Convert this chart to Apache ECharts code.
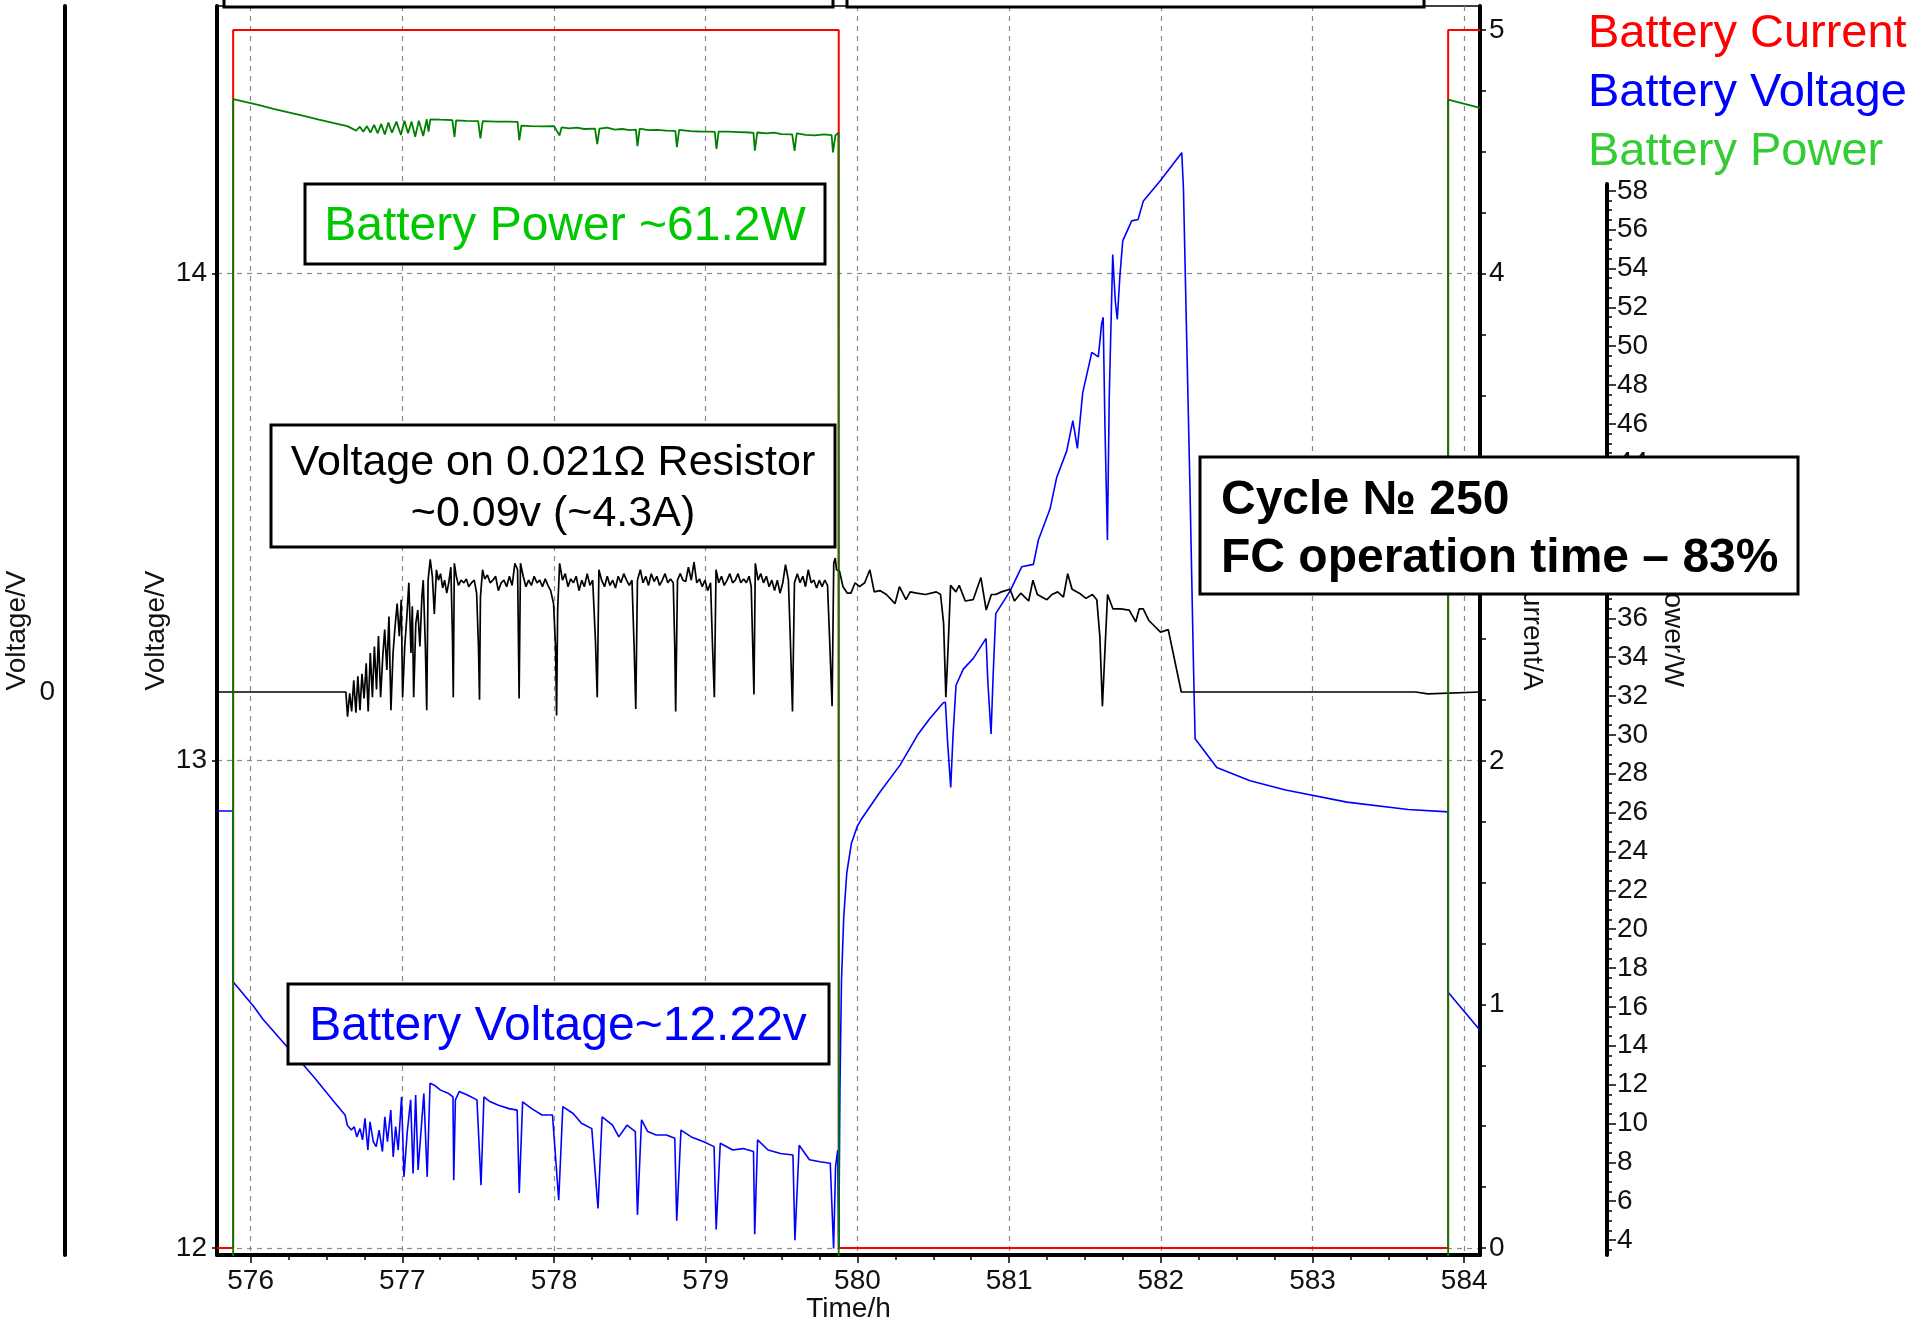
<!DOCTYPE html>
<html><head><meta charset="utf-8">
<script src="https://cdn.jsdelivr.net/npm/echarts@6/dist/echarts.min.js"></script>
<style>html,body{margin:0;padding:0;background:#fff}#c{width:1920px;height:1326px}</style>
</head><body><div id="c"></div><script>
// ---------- tick labels ----------
const hourLabels = [576, 577, 578, 579, 580, 581, 582, 583, 584];
const voltLabels = [12, 13, 14];
const shuntLabels = [0];
const ampLabels = [0, 1, 2, 3, 4, 5];
const wattLabels = [4, 6, 8, 10, 12, 14, 16, 18, 20, 22, 24, 26, 28, 30, 32, 34, 36, 38, 40, 42, 44, 46, 48, 50, 52, 54, 56, 58];
const legendNames = ['Battery Current', 'Battery Voltage', 'Battery Power'];

// ---------- Battery Current (A) ----------
const currentT = [575.7785, 575.885, 575.885, 579.877, 579.877, 583.894, 583.894, 584.104];
const currentA = [0, 0, 5, 5, 0, 0, 5, 5];

// ---------- Battery Voltage (V) ----------
const voltageT = [575.7785,575.885,575.885,575.912,575.96,576.022,576.08,576.145,576.24,576.3,576.35,576.42,576.487,576.55,576.623,576.637,
576.664,576.683,576.7,576.721,576.738,576.754,576.773,576.787,576.809,576.828,576.847,576.869,576.885,576.902,576.924,576.94,576.956,576.973,576.995,
577.011,577.033,577.055,577.071,577.088,577.104,577.142,577.164,577.183,577.211,577.252,577.306,577.334,577.339,577.35,577.375,577.429,577.492,577.519,
577.538,577.58,577.634,577.703,577.757,577.771,577.793,577.853,577.921,577.99,578.031,578.058,578.126,578.181,578.249,578.29,578.317,578.386,578.427,
578.481,578.536,578.55,578.577,578.618,578.673,578.741,578.796,578.809,578.837,578.905,578.987,579.055,579.069,579.096,579.178,579.247,579.315,579.323,
579.342,579.411,579.493,579.575,579.588,579.616,579.684,579.753,579.821,579.843,579.856,579.87,579.877,579.885,579.895,579.91,579.93,579.96,580.0,
580.028,580.149,580.281,580.401,580.479,580.566,580.58,580.595,580.615,580.63,580.65,580.698,580.764,580.848,580.86,580.881,580.895,580.912,581.006,
581.083,581.16,581.193,581.27,581.314,581.38,581.42,581.45,581.485,581.545,581.588,581.61,581.62,581.632,581.648,581.66,581.683,581.69,581.7,581.713,
581.73,581.749,581.808,581.85,581.885,581.995,582.138,582.149,582.17,582.192,582.214,582.226,582.369,582.588,582.823,583.227,583.63,583.894,583.894,584.104];
const voltageV = [12.897,12.897,12.546,12.536,12.518,12.495,12.47,12.447,12.413,12.394,12.375,12.35,12.324,12.3,12.273,12.252,
12.242,12.249,12.228,12.245,12.222,12.266,12.201,12.259,12.218,12.208,12.242,12.198,12.269,12.218,12.283,12.187,12.249,12.201,12.31,
12.146,12.239,12.304,12.153,12.314,12.16,12.317,12.146,12.338,12.334,12.324,12.317,12.31,12.139,12.304,12.321,12.314,12.304,12.129,
12.31,12.3,12.293,12.286,12.283,12.113,12.3,12.286,12.273,12.273,12.098,12.29,12.276,12.256,12.245,12.081,12.269,12.252,12.228,
12.252,12.239,12.068,12.263,12.239,12.232,12.232,12.225,12.056,12.242,12.228,12.218,12.208,12.038,12.215,12.201,12.204,12.198,12.028,
12.222,12.201,12.194,12.191,12.016,12.211,12.181,12.177,12.174,11.999,12.167,12.201,12.0,12.33,12.55,12.68,12.77,12.83,12.866,
12.881,12.936,12.991,13.055,13.087,13.119,13.12,13.036,12.945,13.05,13.155,13.188,13.21,13.251,13.16,13.055,13.178,13.302,13.348,
13.398,13.403,13.453,13.517,13.582,13.636,13.698,13.641,13.755,13.838,13.829,13.897,13.91,13.682,13.453,13.746,14.039,13.998,13.943,13.906,
13.994,14.067,14.108,14.111,14.149,14.19,14.248,14.176,13.874,13.563,13.215,13.045,12.986,12.959,12.94,12.915,12.9,12.895,12.525,12.447];

// ---------- Battery Power (W) ----------
const powerT = [575.7785,575.885,575.885,575.95,576.05,576.15,576.25,576.35,576.45,576.55,576.637,576.667,576.696,576.72,576.743,576.767,576.79,
576.814,576.838,576.861,576.885,576.908,576.932,576.961,576.991,577.014,577.038,577.061,577.085,577.109,577.138,577.161,577.173,577.185,577.25,577.33,
577.344,577.355,577.42,577.5,577.515,577.53,577.62,577.7,577.76,577.771,577.785,577.85,577.93,578.0,578.036,578.05,578.1,578.15,578.2,578.27,578.285,
578.3,578.35,578.4,578.45,578.5,578.54,578.55,578.565,578.62,578.68,578.74,578.8,578.81,578.825,578.9,578.96,579.02,579.06,579.071,579.085,579.15,
579.22,579.29,579.315,579.324,579.34,579.4,579.45,579.5,579.57,579.586,579.6,579.66,579.72,579.78,579.83,579.839,579.855,579.875,579.877,583.894,
583.894,584.104];
const powerW = [0,0,62.72,62.6,62.42,62.22,62.03,61.85,61.66,61.48,61.33,61.21,61.09,61.3,61.04,61.33,60.99,
61.39,60.96,61.44,60.9,61.51,60.99,61.56,60.87,61.61,60.96,61.56,60.78,61.61,60.82,61.68,61.04,61.68,61.66,61.64,
60.77,61.62,61.6,61.58,60.7,61.58,61.56,61.56,61.55,60.6,61.35,61.33,61.31,61.33,60.85,61.26,61.21,61.25,61.18,61.2,60.4,
61.2,61.25,61.15,61.18,61.12,61.15,60.3,61.2,61.12,61.13,61.1,61.08,60.24,61.13,61.07,61.05,61.04,61.03,60.15,61.04,61.04,
61.02,61.0,60.98,60.06,61.0,60.95,60.99,60.92,60.9,60.06,60.95,60.88,60.85,60.9,60.86,59.98,60.85,60.99,0,0,
62.69,62.27];

// ---------- Voltage on 0.021 Ohm resistor (V) ----------
const shuntT = [575.7785,576.628,576.639,576.653,576.666,576.68,576.694,576.707,576.721,576.734,576.748,576.762,576.775,576.789,576.803,576.816,576.83,
576.843,576.857,576.871,576.884,576.898,576.912,576.925,576.939,576.952,576.966,576.98,576.993,577.002,577.016,577.03,577.043,577.057,577.066,577.075,
577.089,577.102,577.116,577.129,577.138,577.152,577.161,577.17,577.184,577.198,577.211,577.225,577.238,577.252,577.266,577.279,577.293,577.306,577.32,
577.331,577.336,577.343,577.356,577.37,577.388,577.406,577.422,577.438,577.456,577.474,577.49,577.502,577.509,577.515,577.529,577.543,577.561,577.579,
577.597,577.615,577.633,577.652,577.67,577.688,577.706,577.724,577.742,577.76,577.77,577.779,577.797,577.815,577.833,577.851,577.869,577.888,577.906,
577.924,577.942,577.96,577.978,577.997,578.01,578.017,578.024,578.037,578.056,578.074,578.092,578.11,578.128,578.146,578.165,578.183,578.2,578.219,
578.237,578.255,578.273,578.285,578.296,578.314,578.333,578.351,578.369,578.387,578.405,578.423,578.441,578.46,578.478,578.496,578.514,578.528,578.539,
578.55,578.569,578.587,578.605,578.623,578.641,578.66,578.678,578.696,578.714,578.732,578.75,578.768,578.786,578.796,578.802,578.814,578.832,578.85,
578.868,578.886,578.905,578.923,578.941,578.959,578.977,578.995,579.013,579.032,579.045,579.057,579.068,579.086,579.104,579.122,579.141,579.159,579.177,
579.195,579.213,579.231,579.25,579.268,579.286,579.3,579.309,579.318,579.327,579.345,579.363,579.381,579.4,579.418,579.436,579.454,579.472,579.49,
579.508,579.526,579.545,579.558,579.572,579.585,579.604,579.622,579.64,579.658,579.676,579.695,579.713,579.731,579.749,579.767,579.785,579.803,579.817,
579.833,579.844,579.854,579.862,579.882,579.905,579.934,579.957,579.985,580.014,580.048,580.082,580.111,580.148,580.191,580.248,580.277,580.32,580.348,
580.391,580.448,580.52,580.548,580.568,580.583,580.597,580.614,580.649,580.671,580.711,580.763,580.814,580.849,580.883,580.912,580.949,581.006,581.035,
581.077,581.129,581.157,581.186,581.249,581.283,581.32,581.358,581.386,581.415,581.463,581.506,581.549,581.578,581.598,581.615,581.629,581.649,581.684,
581.735,581.792,581.835,581.858,581.884,581.921,581.964,581.998,582.049,582.135,583.68,583.69,583.76,583.77,584.104];
const shuntV = [0,0,-0.019,-0.001,-0.015,0.009,-0.016,0.012,-0.014,0.014,-0.005,0.022,-0.015,0.03,-0.004,0.035,0.002,
0.043,-0.004,0.027,0.048,0.017,0.058,-0.014,0.03,0.05,0.068,0.043,0.071,-0.004,0.035,0.058,0.084,0.03,0.066,-0.004,
0.053,0.063,0.035,0.073,0.086,0.035,-0.014,0.086,0.102,0.089,0.06,0.094,0.086,0.091,0.08,0.086,0.076,0.084,0.096,
0.04,-0.004,0.099,0.089,0.082,0.086,0.084,0.087,0.081,0.084,0.086,0.076,0.035,-0.006,0.073,0.094,0.087,0.09,0.084,
0.086,0.089,0.078,0.084,0.086,0.081,0.089,0.082,0.099,0.094,-0.005,0.099,0.089,0.081,0.086,0.082,0.089,0.084,0.086,
0.081,0.087,0.082,0.078,0.068,0.035,-0.018,0.063,0.099,0.086,0.091,0.081,0.087,0.084,0.089,0.078,0.086,0.081,0.091,
0.082,0.086,0.04,-0.004,0.094,0.086,0.081,0.089,0.082,0.086,0.08,0.089,0.084,0.091,0.086,0.082,0.086,0.035,-0.013,
0.086,0.094,0.084,0.089,0.082,0.091,0.085,0.089,0.082,0.086,0.091,0.084,0.087,0.084,0.035,-0.015,0.086,0.091,0.086,
0.085,0.096,0.086,0.1,0.084,0.087,0.081,0.086,0.078,0.084,0.035,-0.004,0.094,0.084,0.089,0.082,0.086,0.091,0.084,
0.086,0.091,0.084,0.087,0.084,0.089,0.081,0.04,-0.002,0.099,0.086,0.091,0.084,0.089,0.081,0.086,0.078,0.086,0.076,
0.084,0.098,0.086,0.04,-0.015,0.084,0.091,0.084,0.089,0.081,0.094,0.084,0.086,0.08,0.086,0.081,0.086,0.082,0.04,
-0.011,0.099,0.103,0.094,0.093,0.081,0.076,0.076,0.084,0.081,0.084,0.094,0.077,0.078,0.075,0.068,0.081,0.071,0.077,
0.076,0.075,0.077,0.075,0.053,-0.004,0.032,0.082,0.077,0.082,0.07,0.071,0.088,0.063,0.075,0.075,0.077,0.079,0.07,
0.076,0.07,0.086,0.075,0.071,0.075,0.077,0.073,0.091,0.079,0.076,0.072,0.075,0.071,0.043,-0.011,0.025,0.075,0.064,
0.064,0.063,0.054,0.064,0.064,0.055,0.05,0.046,0.048,0,0,-0.0015,-0.0015,0,0];

// ---------- helpers ----------
const pairs = (xs, ys) => xs.map((x, i) => [x, ys[i]]);
const stepList = (a, b, s) => { const r = []; for (let v = a; v <= b + 1e-9; v += s) r.push(Math.round(v * 1000) / 1000); return r; };
const quarterHours = stepList(576, 584, 0.25);
const quarterAmps = stepList(0, 5, 0.25);
const halfWatts = stepList(3.5, 58, 0.5);

const TICKF = '"Liberation Sans", Arial, Helvetica, sans-serif';
const SANS = '"Liberation Sans", Arial, Helvetica, sans-serif';
const tickText = { fontFamily: TICKF, fontSize: 28, color: '#111' };
const nameText = { fontFamily: TICKF, fontSize: 28, color: '#111' };
const spine = { show: true, onZero: false, lineStyle: { color: '#000', width: 4 } };
const tickLine = { color: '#000', width: 1.5 };
const gridDash = { show: true, lineStyle: { color: '#8a8a8a', width: 1.2, type: [5, 5] } };
const off = { show: false };

const X_MIN = 575.7785, X_MAX = 584.104;

const chart = echarts.init(document.getElementById('c'), null, { renderer: 'canvas' });
chart.setOption({
  animation: false,
  backgroundColor: '#fff',
  grid: [
    { left: 217, right: 440, top: 6, bottom: 71, show: true, borderColor: '#000', borderWidth: 1.5, backgroundColor: 'transparent', outerBoundsMode: 'none', containLabel: false },
    { left: 1590, width: 17, top: 184, bottom: 71, show: false, outerBoundsMode: 'none', containLabel: false }
  ],
  legend: {
    show: true, orient: 'vertical', left: 1583, top: 11, itemWidth: 0, itemHeight: 0, itemGap: 12,
    icon: 'none', selectedMode: false, padding: 0,
    textStyle: { fontFamily: SANS, fontSize: 47 },
    data: [
      { name: legendNames[0], icon: 'none', textStyle: { color: '#ff0000' } },
      { name: legendNames[1], icon: 'none', textStyle: { color: '#0000ff' } },
      { name: legendNames[2], icon: 'none', textStyle: { color: '#33cc33' } }
    ]
  },
  xAxis: [
    { gridIndex: 0, type: 'value', position: 'bottom', min: X_MIN, max: X_MAX,
      axisLine: spine,
      axisTick: { show: true, inside: false, length: 8, customValues: hourLabels, lineStyle: tickLine },
      axisLabel: Object.assign({ show: true, customValues: hourLabels, margin: 12 }, tickText),
      splitLine: gridDash, minorTick: off, minorSplitLine: off,
      name: 'Time/h', nameLocation: 'middle', nameGap: 40, nameMoveOverlap: false,
      nameTextStyle: nameText },
    { gridIndex: 0, type: 'value', position: 'bottom', min: X_MIN, max: X_MAX,
      axisLine: { show: false, onZero: false },
      axisTick: { show: true, inside: false, length: 5, customValues: quarterHours, lineStyle: tickLine },
      axisLabel: off, splitLine: off },
    { gridIndex: 1, type: 'value', min: 0, max: 1, show: false }
  ],
  yAxis: [
    { gridIndex: 0, type: 'value', position: 'left', min: 11.9856, max: 14.549,
      axisLine: spine,
      axisTick: { show: true, length: 5, customValues: voltLabels, lineStyle: tickLine },
      axisLabel: Object.assign({ show: true, customValues: voltLabels, margin: 10 }, tickText),
      splitLine: gridDash,
      name: 'Voltage/V', nameLocation: 'middle', nameGap: 47, nameRotate: 90, nameMoveOverlap: false,
      nameTextStyle: nameText },
    { gridIndex: 0, type: 'value', position: 'left', offset: 152, min: -0.4331, max: 0.5277,
      axisLine: spine,
      axisTick: { show: false, customValues: shuntLabels },
      axisLabel: Object.assign({ show: true, customValues: shuntLabels, margin: 10 }, tickText),
      splitLine: off,
      name: 'Voltage/V', nameLocation: 'middle', nameGap: 34, nameRotate: 90, nameMoveOverlap: false,
      nameTextStyle: nameText },
    { gridIndex: 0, type: 'value', position: 'right', offset: 0, min: -0.0287, max: 5.099,
      axisLine: spine,
      axisTick: { show: true, inside: false, length: 6, customValues: quarterAmps, lineStyle: tickLine },
      axisLabel: Object.assign({ show: true, customValues: ampLabels, margin: 9 }, tickText),
      splitLine: off,
      name: 'Current/A', nameLocation: 'middle', nameGap: 38, nameRotate: -90, nameMoveOverlap: false,
      nameTextStyle: nameText },
    { gridIndex: 0, type: 'value', position: 'right', offset: 127, min: 3.228, max: 67.51,
      axisLine: { show: false, onZero: false }, axisTick: off, axisLabel: off, splitLine: off,
      name: 'Power/W', nameLocation: 'middle', nameGap: 52, nameRotate: -90, nameMoveOverlap: false,
      nameTextStyle: nameText },
    { gridIndex: 1, type: 'value', position: 'right', min: 3.228, max: 58.35,
      axisLine: spine,
      axisTick: { show: true, inside: false, length: 5, customValues: halfWatts, lineStyle: tickLine },
      axisLabel: Object.assign({ show: true, customValues: wattLabels, margin: 10 }, tickText),
      splitLine: off },
    { gridIndex: 1, type: 'value', position: 'right', min: 3.228, max: 58.35,
      axisLine: { show: false, onZero: false },
      axisTick: { show: true, inside: false, length: 9, customValues: wattLabels, lineStyle: tickLine },
      axisLabel: off, splitLine: off }
  ],
  series: [
    { name: legendNames[0], type: 'line', xAxisIndex: 0, yAxisIndex: 2, data: pairs(currentT, currentA),
      showSymbol: false, symbol: 'none', clip: true, lineStyle: { color: '#ff0000', width: 2 }, itemStyle: { color: '#ff0000' }, z: 2 },
    { name: legendNames[1], type: 'line', xAxisIndex: 0, yAxisIndex: 0, data: pairs(voltageT, voltageV),
      showSymbol: false, symbol: 'none', clip: true, lineStyle: { color: '#0000ff', width: 1.6 }, itemStyle: { color: '#0000ff' }, z: 3 },
    { name: 'Resistor Voltage', type: 'line', xAxisIndex: 0, yAxisIndex: 1, data: pairs(shuntT, shuntV),
      showSymbol: false, symbol: 'none', clip: true, lineStyle: { color: '#000000', width: 1.7 }, itemStyle: { color: '#000' }, z: 4 },
    { name: legendNames[2], type: 'line', xAxisIndex: 0, yAxisIndex: 3, data: pairs(powerT, powerW),
      showSymbol: false, symbol: 'none', clip: true, lineStyle: { color: '#008000', width: 1.8 }, itemStyle: { color: '#008000' }, z: 5 }
  ],
  graphic: [
    { type: 'rect', z: 100, shape: { x: 224, y: -30, width: 609, height: 37 }, style: { fill: '#fff', stroke: '#000', lineWidth: 3 } },
    { type: 'rect', z: 100, shape: { x: 847, y: -30, width: 577, height: 37 }, style: { fill: '#fff', stroke: '#000', lineWidth: 3 } },

    { type: 'rect', z: 100, shape: { x: 305, y: 184, width: 520, height: 80 }, style: { fill: '#fff', stroke: '#000', lineWidth: 3 } },
    { type: 'text', z: 101, x: 565, y: 227, style: { text: 'Battery Power ~61.2W', fill: '#00c800', font: '48px ' + SANS, align: 'center', textAlign: 'center', verticalAlign: 'middle', textVerticalAlign: 'middle' } },

    { type: 'rect', z: 100, shape: { x: 271, y: 425, width: 564, height: 122 }, style: { fill: '#fff', stroke: '#000', lineWidth: 3 } },
    { type: 'text', z: 101, x: 553, y: 489, style: { text: 'Voltage on 0.021\u03A9 Resistor\n~0.09v (~4.3A)', fill: '#000', font: '43px ' + SANS, lineHeight: 51, align: 'center', textAlign: 'center', verticalAlign: 'middle', textVerticalAlign: 'middle' } },

    { type: 'rect', z: 100, shape: { x: 288, y: 984, width: 541, height: 80 }, style: { fill: '#fff', stroke: '#000', lineWidth: 3 } },
    { type: 'text', z: 101, x: 558, y: 1027, style: { text: 'Battery Voltage~12.22v', fill: '#0000ff', font: '48px ' + SANS, align: 'center', textAlign: 'center', verticalAlign: 'middle', textVerticalAlign: 'middle' } },

    { type: 'rect', z: 100, shape: { x: 1200, y: 457, width: 598, height: 137 }, style: { fill: '#fff', stroke: '#000', lineWidth: 3 } },
    { type: 'text', z: 101, x: 1221, y: 530, style: { text: 'Cycle \u2116 250\nFC operation time \u2013 83%', fill: '#000', font: 'bold 48px ' + SANS, lineHeight: 58, align: 'left', textAlign: 'left', verticalAlign: 'middle', textVerticalAlign: 'middle' } }
  ]
});
</script></body></html>
